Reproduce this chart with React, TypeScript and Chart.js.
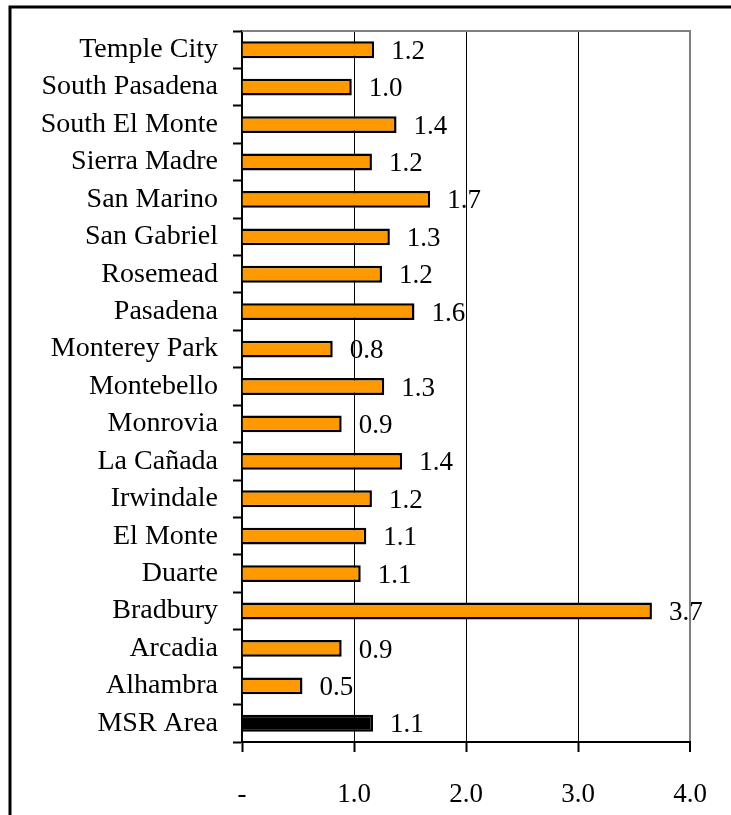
import React, { useEffect, useRef } from "react";
import { Chart, registerables } from "chart.js";

Chart.register(...registerables);

const categories = [
  "Temple City",
  "South Pasadena",
  "South El Monte",
  "Sierra Madre",
  "San Marino",
  "San Gabriel",
  "Rosemead",
  "Pasadena",
  "Monterey Park",
  "Montebello",
  "Monrovia",
  "La Cañada",
  "Irwindale",
  "El Monte",
  "Duarte",
  "Bradbury",
  "Arcadia",
  "Alhambra",
  "MSR Area",
];

const values = [
  1.18, 0.98, 1.38, 1.16, 1.68, 1.32, 1.25, 1.54, 0.81, 1.27, 0.89, 1.43,
  1.16, 1.11, 1.06, 3.66, 0.89, 0.54, 1.17,
];

const valueLabels = [
  "1.2", "1.0", "1.4", "1.2", "1.7", "1.3", "1.2", "1.6", "0.8", "1.3", "0.9", "1.4",
  "1.2", "1.1", "1.1", "3.7", "0.9", "0.5", "1.1",
];

const xTickLabels: Record<number, string> = { 0: "-", 1: "1.0", 2: "2.0", 3: "3.0", 4: "4.0" };

const FONT = "'Liberation Serif', 'Times New Roman', serif";

const decorPlugin = {
  id: "decor",
  afterDraw(chart: any) {
    const { ctx, chartArea } = chart;
    ctx.save();
    ctx.strokeStyle = "#000";
    ctx.lineWidth = 3;
    ctx.beginPath();
    ctx.moveTo(8.5, 7);
    ctx.lineTo(731, 7);
    ctx.moveTo(10, 7);
    ctx.lineTo(10, 815);
    ctx.stroke();
    ctx.strokeStyle = "#808080";
    ctx.lineWidth = 2;
    ctx.beginPath();
    ctx.moveTo(chartArea.left, chartArea.top);
    ctx.lineTo(chartArea.right + 1, chartArea.top);
    ctx.stroke();
    ctx.restore();
  },
  afterDatasetsDraw(chart: any) {
    const { ctx } = chart;
    const meta = chart.getDatasetMeta(0);
    ctx.save();
    ctx.fillStyle = "#000";
    ctx.font = `27px ${FONT}`;
    ctx.textAlign = "left";
    ctx.textBaseline = "middle";
    meta.data.forEach((bar: any, i: number) => {
      ctx.fillText(valueLabels[i], bar.x + 17, bar.y + 2);
    });
    ctx.restore();
  },
};

export default function App() {
  const ref = useRef<HTMLCanvasElement | null>(null);
  useEffect(() => {
    if (!ref.current) return;
    const chart = new Chart(ref.current, {
      type: "bar",
      data: {
        labels: categories,
        datasets: [
          {
            data: values,
            backgroundColor: categories.map((c) => (c === "MSR Area" ? "#000000" : "#FF9900")),
            borderColor: "#000000",
            borderWidth: 2.5,
            barPercentage: 0.45,
            categoryPercentage: 1,
          },
        ],
      },
      options: {
        indexAxis: "y",
        animation: false,
        responsive: true,
        maintainAspectRatio: false,
        layout: { padding: { top: 31, right: 41, left: 0, bottom: 0 } },
        plugins: { legend: { display: false }, tooltip: { enabled: false } },
        scales: {
          x: {
            min: 0,
            max: 4,
            afterFit: (s: any) => {
              s.height = 73;
              s.paddingLeft = 0;
              s.paddingRight = 0;
            },
            ticks: {
              stepSize: 1,
              color: "#000",
              font: { family: FONT, size: 27 },
              padding: 27,
              callback: (v: any) => xTickLabels[v as number] ?? "",
            },
            grid: {
              color: (c: any) => (c.tick && c.tick.value === 4 ? "#808080" : "#000000"),
              lineWidth: (c: any) => (c.tick && c.tick.value === 4 ? 2 : 1),
              drawTicks: true,
              tickLength: 10,
              tickColor: "#000",
              tickWidth: 2,
            },
            border: { display: true, color: "#000", width: 2 },
          },
          y: {
            afterFit: (s: any) => {
              s.width = 242;
              s.paddingTop = 0;
              s.paddingBottom = 0;
            },
            ticks: {
              color: "#000",
              font: { family: FONT, size: 28 },
              padding: 15,
            },
            grid: {
              offset: true,
              drawOnChartArea: false,
              drawTicks: true,
              tickLength: 9,
              tickColor: "#000",
              tickWidth: 2,
            },
            border: { display: true, color: "#000", width: 2 },
          },
        },
      },
      plugins: [decorPlugin],
    });
    return () => chart.destroy();
  }, []);
  return (
    <div style={{ position: "absolute", left: 0, top: 0, width: 731, height: 815, background: "#fff" }}>
      <canvas ref={ref} />
    </div>
  );
}
